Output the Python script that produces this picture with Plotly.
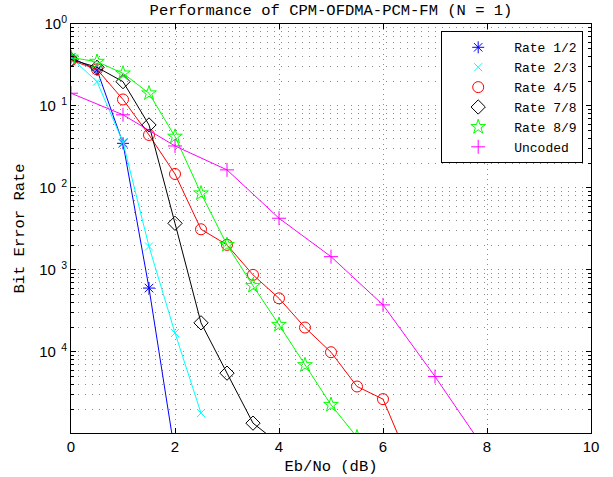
import plotly.graph_objects as go

# ---- data ----
rate_12_x = [0, 0.5, 1, 1.5, 2]
rate_12 = [0.39, 0.275, 0.035, 6.0e-4, 5.7e-6]

rate_23_x = [0, 0.5, 1, 1.5, 2, 2.5]
rate_23 = [0.39, 0.198, 0.036, 1.93e-3, 1.7e-4, 1.79e-5]

rate_45_x = [0, 0.5, 1, 1.5, 2, 2.5, 3, 3.5, 4, 4.5, 5, 5.5, 6, 6.5]
rate_45 = [0.36, 0.28, 0.12, 0.0443, 0.0148, 3.13e-3, 2.02e-3, 8.7e-4,
           4.5e-4, 1.98e-4, 9.9e-5, 3.78e-5, 2.65e-5, 4.7e-6]

rate_78_x = [0, 0.5, 1, 1.5, 2, 2.5, 3, 3.5, 4]
rate_78 = [0.37, 0.296, 0.198, 0.0587, 3.7e-3, 2.26e-4, 5.5e-5, 1.35e-5, 7.6e-6]

rate_89_x = [0, 0.5, 1, 1.5, 2, 2.5, 3, 3.5, 4, 4.5, 5, 5.5]
rate_89 = [0.39, 0.347, 0.25, 0.143, 0.0423, 8.6e-3, 2.02e-3, 6.4e-4,
           2.14e-4, 6.9e-5, 2.26e-5, 9.1e-6]

uncoded_x = [0, 1, 2, 3, 4, 5, 6, 7, 8]
uncoded = [0.143, 0.078, 0.0325, 0.0166, 4.27e-3, 1.45e-3, 3.74e-4, 5.0e-5, 5.9e-6]

x_ticks = [0, 2, 4, 6, 8, 10]
y_ticks = [1, 1e-1, 1e-2, 1e-3, 1e-4]
y_tick_text = ["10<sup>0</sup>", "10<sup>\u20021</sup>", "10<sup>\u20022</sup>",
               "10<sup>\u20023</sup>", "10<sup>\u20024</sup>"]
minor_y = [m * 10.0 ** e for e in range(-5, 0) for m in range(2, 10)]

series = [
    ("Rate 1/2", rate_12_x, rate_12, "#0000ff", "asterisk-open", 10),
    ("Rate 2/3", rate_23_x, rate_23, "#00ffff", "x-thin-open", 8),
    ("Rate 4/5", rate_45_x, rate_45, "#ff0000", "circle-open", 11),
    ("Rate 7/8", rate_78_x, rate_78, "#000000", "diamond-open", 11),
    ("Rate 8/9", rate_89_x, rate_89, "#00ff00", "star-open", 11),
    ("Uncoded", uncoded_x, uncoded, "#ff00ff", "cross-thin-open", 10),
]

mono = "Liberation Mono, Courier New, monospace"
sans = "Liberation Sans, Arial, sans-serif"
grid_col = "rgba(0,0,0,0.45)"

fig = go.Figure()
for name, xs, ys, col, sym, sz in series:
    fig.add_trace(go.Scatter(
        x=xs, y=ys, mode="lines+markers", name=name, showlegend=False,
        line=dict(color=col, width=1),
        marker=dict(symbol=sym, size=sz, color=col, line=dict(color=col, width=1)),
    ))
for name, xs, ys, col, sym, sz in series:
    fig.add_trace(go.Scatter(
        x=[None], y=[None], mode="markers", name=name, showlegend=True,
        marker=dict(symbol=sym, size=sz, color=col, line=dict(color=col, width=1)),
    ))

fig.update_layout(
    width=613, height=477,
    margin=dict(l=71, r=22, t=24, b=44, autoexpand=False),
    paper_bgcolor="white", plot_bgcolor="white",
    title=dict(text="Performance of CPM-OFDMA-PCM-FM (N = 1)",
               font=dict(family=mono, size=15.5, color="black"),
               x=331 / 613, xanchor="center", y=1 - 10 / 477, yanchor="middle",
               xref="container", yref="container", automargin=False),
    legend=dict(x=0.985, xanchor="right", y=0.982, yanchor="top",
                bgcolor="white", bordercolor="black", borderwidth=1,
                font=dict(family=mono, size=13, color="black"),
                itemwidth=62, tracegroupgap=0),
    showlegend=True,
)

fig.update_xaxes(
    range=[0, 10], tickvals=x_ticks, ticktext=[str(v) for v in x_ticks],
    ticks="inside", ticklen=5, tickcolor="black", mirror="ticks",
    showline=True, linecolor="black", linewidth=1,
    showgrid=True, gridcolor=grid_col, gridwidth=1, griddash="1px,4px",
    zeroline=False, automargin=False,
    tickfont=dict(family=sans, size=15, color="black"),
    title=dict(text="Eb/No (dB)", font=dict(family=mono, size=15.5, color="black"),
               standoff=6),
)
fig.update_yaxes(
    type="log", range=[-4.99, 0],
    tickvals=y_ticks, ticktext=y_tick_text,
    ticks="inside", ticklen=5, tickcolor="black", mirror="ticks",
    showline=True, linecolor="black", linewidth=1,
    showgrid=True, gridcolor=grid_col, gridwidth=1, griddash="1px,6px",
    zeroline=False, automargin=False,
    tickfont=dict(family=sans, size=15, color="black"),
    minor=dict(tickmode="array", tickvals=minor_y, ticks="inside", ticklen=3,
               tickcolor="black", showgrid=True, gridcolor=grid_col,
               gridwidth=1, griddash="1px,6px"),
    title=dict(text="Bit Error Rate", font=dict(family=mono, size=15.5, color="black"),
               standoff=10),
)

fig.write_html("out.html",
               config={"displayModeBar": False},
               post_script="document.body.style.margin='0';document.body.style.overflow='hidden';")
